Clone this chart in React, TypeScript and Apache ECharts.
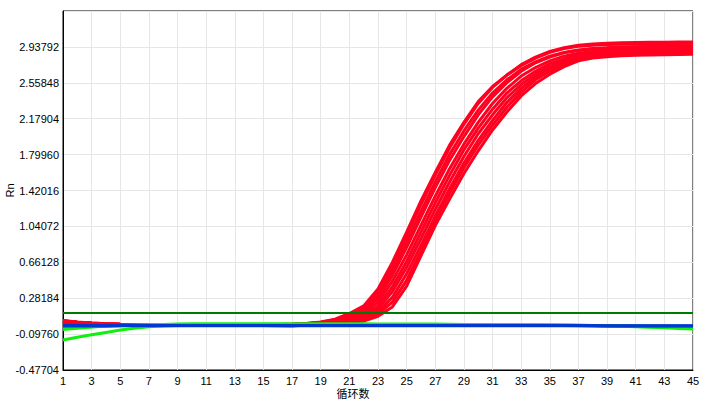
import React, { useEffect, useRef } from "react";
import * as echarts from "echarts";

// Cycle categories (x axis)
const CYCLES: string[] = [
  "1","2","3","4","5","6","7","8","9","10","11","12","13","14","15",
  "16","17","18","19","20","21","22","23","24","25","26","27","28","29","30",
  "31","32","33","34","35","36","37","38","39","40","41","42","43","44","45",
];

// Y axis ticks: min and step (labels)
const Y_MIN = -0.47704;
const Y_STEP = 0.37944;
const Y_MAX = 3.31736;
const THRESHOLD = 0.122;

// Amplification curves (Rn), red wells
const RED_1 = [0.045,0.03,0.02,0.012,0.007,0.004,0.002,0.001,0,0,0,0,0.001,0.002,0.003,0.005,
  0.008,0.015,0.03,0.06,0.12,0.2,0.38,0.66,0.98,1.31,1.61,1.9,2.14,2.36,2.52,2.64,2.74,2.82,2.88,2.92,2.945,2.955,2.962,2.966,2.969,2.971,2.973,2.975,2.977];
const RED_2 = [0.04,0.027,0.017,0.01,0.006,0.003,0.001,0,0,-0.001,0,0,0.001,0.002,0.003,0.004,
  0.007,0.014,0.027,0.053,0.105,0.18,0.35,0.62,0.94,1.27,1.58,1.87,2.12,2.34,2.51,2.64,2.75,2.83,2.89,2.93,2.955,2.968,2.976,2.981,2.984,2.986,2.988,2.989,2.99];
const RED_3 = [0.035,0.024,0.015,0.009,0.005,0.003,0.001,0,0,0,0,0.001,0.001,0.002,0.003,0.004,
  0.006,0.012,0.024,0.046,0.09,0.16,0.31,0.57,0.88,1.2,1.51,1.8,2.05,2.27,2.45,2.59,2.7,2.78,2.84,2.88,2.905,2.92,2.93,2.936,2.94,2.943,2.946,2.948,2.95];
const RED_4 = [0.038,0.026,0.016,0.009,0.005,0.002,0.001,0,-0.001,0,0,0,0.001,0.001,0.002,0.003,
  0.005,0.01,0.019,0.036,0.07,0.12,0.24,0.46,0.74,1.05,1.36,1.65,1.91,2.14,2.34,2.5,2.63,2.72,2.79,2.84,2.87,2.89,2.902,2.91,2.916,2.92,2.924,2.927,2.93];
const RED_5 = [0.032,0.022,0.014,0.008,0.004,0.002,0.001,0,0,0,0,0,0.001,0.001,0.002,0.003,
  0.004,0.008,0.016,0.031,0.058,0.1,0.2,0.4,0.67,0.98,1.29,1.58,1.85,2.08,2.28,2.45,2.58,2.68,2.76,2.81,2.85,2.875,2.89,2.9,2.907,2.912,2.916,2.919,2.922];
const RED_6 = [0.042,0.028,0.018,0.011,0.006,0.003,0.001,0,0,0,0,0.001,0.001,0.002,0.002,0.003,
  0.004,0.007,0.014,0.027,0.05,0.085,0.17,0.35,0.61,0.91,1.22,1.51,1.78,2.02,2.22,2.4,2.54,2.65,2.73,2.79,2.83,2.86,2.875,2.886,2.893,2.898,2.902,2.905,2.908];
const RED_7 = [0.03,0.02,0.013,0.008,0.004,0.002,0.001,0,0,0,0,0,0,0.001,0.002,0.002,
  0.003,0.006,0.012,0.023,0.042,0.07,0.14,0.29,0.54,0.84,1.15,1.44,1.71,1.95,2.16,2.35,2.5,2.62,2.71,2.77,2.815,2.845,2.862,2.873,2.88,2.886,2.89,2.894,2.897];
const RED_8 = [0.036,0.025,0.016,0.009,0.005,0.002,0.001,0,0,0,0,0,0.001,0.001,0.001,0.002,
  0.003,0.005,0.01,0.019,0.034,0.058,0.115,0.24,0.47,0.78,1.1,1.39,1.66,1.9,2.11,2.3,2.46,2.59,2.68,2.75,2.8,2.83,2.848,2.86,2.868,2.874,2.878,2.882,2.885];
const RED_9 = [0.028,0.019,0.012,0.007,0.003,0.001,0,0,0,0,0,0,-0.002,-0.005,-0.008,-0.01,
  -0.012,-0.002,0.008,0.015,0.025,0.04,0.09,0.19,0.41,0.73,1.05,1.33,1.6,1.84,2.06,2.25,2.42,2.55,2.65,2.73,2.79,2.82,2.835,2.845,2.85,2.853,2.856,2.858,2.86];
const RED_10 = [0.044,0.029,0.019,0.011,0.006,0.003,0.002,0.001,0,0,0,0.001,0.001,0.002,0.003,0.004,
  0.005,0.011,0.021,0.041,0.08,0.14,0.28,0.52,0.82,1.14,1.45,1.74,1.99,2.22,2.41,2.56,2.68,2.77,2.83,2.875,2.9,2.915,2.925,2.932,2.937,2.94,2.943,2.945,2.947];

// Green wells
const GREEN_1 = [-0.16,-0.13,-0.105,-0.08,-0.055,-0.035,-0.02,-0.012,-0.007,-0.004,-0.002,-0.001,0,0,0,
  0,0,0,0,0,0,0,0,0,0,0,0,0,0,0,
  0,0,0,0,0,-0.001,-0.003,-0.006,-0.01,-0.014,-0.019,-0.025,-0.031,-0.038,-0.045];
const GREEN_2 = [-0.05,-0.035,-0.022,-0.013,-0.007,-0.003,0,0.004,0.008,0.011,0.012,0.012,0.013,0.013,0.012,
  0.012,0.012,0.012,0.011,0.011,0.011,0.011,0.01,0.01,0.01,0.009,0.008,0.006,0.004,0.001,
  -0.002,-0.004,-0.005,-0.006,-0.007,-0.008,-0.009,-0.01,-0.011,-0.012,-0.013,-0.014,-0.015,-0.016,-0.017];
const GREEN_3 = [-0.035,-0.027,-0.02,-0.014,-0.009,-0.005,-0.002,0,0,0,0,0,0,0,0,
  0,0,0,0,0,0,0,0,0,0,0,0,0,0,0,
  0,0,0,0,-0.001,-0.002,-0.004,-0.007,-0.01,-0.013,-0.017,-0.021,-0.025,-0.029,-0.033];

// Blue wells
const BLUE_1 = [-0.012,-0.012,-0.011,-0.011,-0.01,-0.01,-0.01,-0.01,-0.01,-0.01,-0.01,-0.01,-0.01,-0.01,-0.01,
  -0.01,-0.01,-0.01,-0.01,-0.01,-0.01,-0.01,-0.01,-0.01,-0.01,-0.01,-0.01,-0.01,-0.01,-0.01,
  -0.01,-0.01,-0.01,-0.01,-0.01,-0.01,-0.01,-0.011,-0.011,-0.011,-0.012,-0.012,-0.012,-0.013,-0.013];
const BLUE_2 = [-0.005,-0.006,-0.006,-0.007,-0.007,-0.007,-0.007,-0.008,-0.008,-0.008,-0.008,-0.008,-0.008,-0.008,-0.008,
  -0.008,-0.008,-0.008,-0.008,-0.008,-0.008,-0.008,-0.008,-0.008,-0.008,-0.008,-0.008,-0.008,-0.008,-0.008,
  -0.008,-0.008,-0.008,-0.008,-0.008,-0.008,-0.008,-0.008,-0.009,-0.009,-0.009,-0.009,-0.009,-0.01,-0.01];

const RED_SERIES = [RED_1, RED_2, RED_3, RED_4, RED_5, RED_6, RED_7, RED_8, RED_9, RED_10];
const GREEN_SERIES = [GREEN_1, GREEN_2, GREEN_3];
const BLUE_SERIES = [BLUE_1, BLUE_2];

const RED = "#ff0020";
const GREEN = "#10f010";
const BLUE = "#0038d0";
const THRESH_COLOR = "#007a00";

const FONT = "'Liberation Sans', Arial, 'Noto Sans CJK SC', sans-serif";

const shift = (arr: number[]) => arr.map((v) => v - Y_MIN);

export default function App() {
  const ref = useRef<HTMLDivElement>(null);
  useEffect(() => {
    if (!ref.current) return;
    const chart = echarts.init(ref.current, undefined, { renderer: "svg" });
    const mk = (arr: number[], color: string, z: number) => ({
      type: "line",
      data: shift(arr),
      symbol: "none",
      showSymbol: false,
      silent: true,
      z,
      lineStyle: { color, width: 3 },
    });
    const series: any[] = [
      ...RED_SERIES.map((a) => mk(a, RED, 2)),
      ...GREEN_SERIES.map((a) => mk(a, GREEN, 3)),
      ...BLUE_SERIES.map((a) => mk(a, BLUE, 4)),
      {
        type: "line",
        data: [],
        z: 5,
        markLine: {
          silent: true,
          symbol: "none",
          label: { show: false },
          lineStyle: { color: THRESH_COLOR, width: 2, type: "solid" },
          data: [{ yAxis: THRESHOLD - Y_MIN }],
        },
      },
    ];
    chart.setOption({
      animation: false,
      backgroundColor: "#ffffff",
      grid: {
        left: 63,
        right: 13,
        top: 11,
        bottom: 31,
        show: true,
        borderColor: "#000",
        borderWidth: 1,
        containLabel: false,
        outerBoundsMode: "none",
      },
      xAxis: {
        type: "category",
        data: CYCLES,
        boundaryGap: false,
        name: "循环数",
        nameLocation: "middle",
        nameGap: 18,
        nameMoveOverlap: false,
        nameTextStyle: { color: "#000", fontSize: 11, fontFamily: FONT, padding: [0, 50, 0, 0] },
        axisLine: { lineStyle: { color: "#000", width: 1 } },
        axisTick: { show: false },
        axisLabel: { interval: 1, color: "#000", fontSize: 11, fontFamily: FONT, margin: 5 },
        splitLine: { show: true, interval: 1, lineStyle: { color: "#e6e6e6", width: 1 } },
      },
      yAxis: {
        type: "value",
        min: 0,
        max: Y_MAX - Y_MIN,
        interval: Y_STEP,
        name: "Rn",
        nameLocation: "middle",
        nameGap: 48,
        nameMoveOverlap: false,
        nameTextStyle: { color: "#000", fontSize: 11, fontFamily: FONT },
        axisLine: { show: true, lineStyle: { color: "#000", width: 1 } },
        axisTick: { show: false },
        axisLabel: {
          color: "#000",
          fontSize: 11,
          fontFamily: FONT,
          margin: 4,
          showMaxLabel: false,
          formatter: (v: number) => (v + Y_MIN).toFixed(5),
        },
        splitLine: { show: true, lineStyle: { color: "#e6e6e6", width: 1 } },
      },
      series,
    });
    return () => chart.dispose();
  }, []);
  return <div ref={ref} style={{ width: 706, height: 401, position: "absolute", left: 0, top: 0 }} />;
}
